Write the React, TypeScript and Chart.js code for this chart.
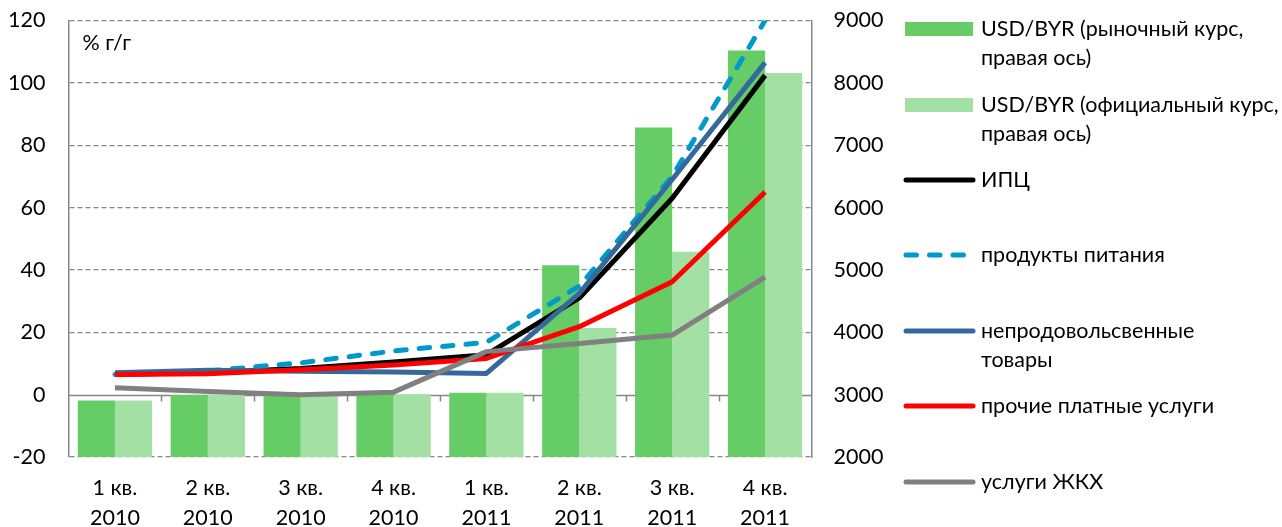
import React, { useEffect, useRef } from "react";
import { Chart, registerables } from "chart.js";

Chart.register(...registerables);

const quarters = ["1 кв.", "2 кв.", "3 кв.", "4 кв.", "1 кв.", "2 кв.", "3 кв.", "4 кв."];
const years = ["2010", "2010", "2010", "2010", "2011", "2011", "2011", "2011"];

const usdMarket = [2905, 2995, 2990, 3005, 3030, 5075, 7285, 8520];
const usdOfficial = [2905, 2995, 2990, 3005, 3030, 4070, 5290, 8160];

const cpi = [6.5, 7.1, 8.4, 10.5, 12.8, 31, 63, 102.4];
const food = [6.5, 7.6, 10.2, 14, 16.8, 34.8, 70, 120];
const nonFood = [7, 7.8, 7.5, 7.3, 6.8, 32.5, 69, 106.5];
const services = [6.5, 6.7, 8, 9.5, 11.6, 21.8, 36.2, 65];
const housing = [2.2, 1, 0, 0.8, 13.8, 16.4, 19.1, 37.7];

const leftTicks = { min: -20, max: 120, step: 20 };
const rightTicks = { min: 2000, max: 9000, step: 1000 };

const FONT = "Lato";
const FS = 21.5;
const GRID = "#878787";

const C_MARKET = "#66CC66";
const C_OFFICIAL = "#A3E0A3";
const C_CPI = "#000000";
const C_FOOD = "#0099CC";
const C_NONFOOD = "#35699C";
const C_SERV = "#FF0000";
const C_HOUSING = "#808080";

const legendItems = [
  { kind: "bar", color: C_MARKET, lines: ["USD/BYR (рыночный курс,", "правая ось)"], y: 29 },
  { kind: "bar", color: C_OFFICIAL, lines: ["USD/BYR (официальный курс,", "правая ось)"], y: 105 },
  { kind: "line", color: C_CPI, lines: ["ИПЦ"], y: 180 },
  { kind: "dash", color: C_FOOD, lines: ["продукты питания"], y: 255 },
  { kind: "line", color: C_NONFOOD, lines: ["непродовольсвенные", "товары"], y: 331 },
  { kind: "line", color: C_SERV, lines: ["прочие платные услуги"], y: 406 },
  { kind: "line", color: C_HOUSING, lines: ["услуги ЖКХ"], y: 482 },
];

const zeroLinePlugin = {
  id: "zeroLine",
  beforeDatasetsDraw(chart: any) {
    const { ctx, chartArea, scales } = chart;
    const y0 = Math.round(scales.y.getPixelForValue(0)) + 0.5;
    ctx.save();
    ctx.strokeStyle = GRID;
    ctx.lineWidth = 1.5;
    ctx.setLineDash([]);
    ctx.beginPath();
    ctx.moveTo(chartArea.left, y0);
    ctx.lineTo(chartArea.right, y0);
    const n = quarters.length;
    const w = (chartArea.right - chartArea.left) / n;
    for (let i = 1; i < n; i++) {
      const x = Math.round(chartArea.left + w * i) + 0.5;
      ctx.moveTo(x, y0);
      ctx.lineTo(x, y0 + 6);
    }
    ctx.stroke();
    ctx.restore();
  },
};

const overlayPlugin = {
  id: "overlay",
  afterDraw(chart: any) {
    const { ctx, chartArea } = chart;
    ctx.save();
    ctx.font = `${FS}px ${FONT}`;
    ctx.fillStyle = "#000";
    ctx.textBaseline = "middle";
    ctx.textAlign = "left";
    ctx.fillText("% г/г", chartArea.left + 14, 43);

    const sx0 = 905;
    const sx1 = 973;
    const tx = 981;
    for (const it of legendItems) {
      if (it.kind === "bar") {
        ctx.fillStyle = it.color;
        ctx.fillRect(sx0, it.y - 7, sx1 - sx0, 14);
      } else {
        ctx.strokeStyle = it.color;
        ctx.lineWidth = 5;
        ctx.lineCap = "round";
        ctx.setLineDash(it.kind === "dash" ? [10.5, 13] : []);
        ctx.beginPath();
        ctx.moveTo(sx0 + 1, it.y);
        ctx.lineTo(sx1, it.y);
        ctx.stroke();
        ctx.setLineDash([]);
      }
      ctx.fillStyle = "#000";
      it.lines.forEach((t, k) => ctx.fillText(t, tx, it.y + k * 29));
    }
    ctx.restore();
  },
};

export default function App() {
  const ref = useRef<HTMLCanvasElement | null>(null);

  useEffect(() => {
    document.body.style.margin = "0";
    const labels = quarters.map((q, i) => [q, years[i]]);
    const lineDs = (label: string, data: number[], color: string, order: number, dash: number[] = []) => ({
      type: "line" as const,
      label,
      data,
      yAxisID: "y",
      borderColor: color,
      backgroundColor: color,
      borderWidth: 5,
      borderDash: dash,
      borderCapStyle: dash.length ? "round" : "butt",
      borderJoinStyle: "round",
      pointRadius: 0,
      tension: 0,
      fill: false,
      order,
    });
    const chart = new Chart(ref.current as HTMLCanvasElement, {
      type: "bar",
      data: {
        labels,
        datasets: [
          {
            type: "bar",
            label: "USD/BYR (рыночный курс, правая ось)",
            data: usdMarket,
            yAxisID: "y2",
            backgroundColor: C_MARKET,
            categoryPercentage: 0.8,
            barPercentage: 1.0,
            order: 10,
          },
          {
            type: "bar",
            label: "USD/BYR (официальный курс, правая ось)",
            data: usdOfficial,
            yAxisID: "y2",
            backgroundColor: C_OFFICIAL,
            categoryPercentage: 0.8,
            barPercentage: 1.0,
            order: 10,
          },
          lineDs("ИПЦ", cpi, C_CPI, 5),
          lineDs("продукты питания", food, C_FOOD, 4, [10.5, 13]),
          lineDs("непродовольсвенные товары", nonFood, C_NONFOOD, 3),
          lineDs("прочие платные услуги", services, C_SERV, 2),
          lineDs("услуги ЖКХ", housing, C_HOUSING, 1),
        ] as any,
      },
      options: {
        animation: false,
        responsive: false,
        devicePixelRatio: 1,
        layout: { padding: { top: 20.5, left: 0, right: 0, bottom: 0 } },
        plugins: { legend: { display: false }, tooltip: { enabled: false }, title: { display: false } },
        scales: {
          x: {
            type: "category",
            offset: true,
            grid: { display: false },
            border: { display: false },
            ticks: {
              color: "#000",
              font: { family: FONT, size: FS, lineHeight: 30 / FS },
              padding: 8,
              maxRotation: 0,
              autoSkip: false,
            },
            afterFit: (s: any) => {
              s.height = 70;
              s.paddingLeft = 0;
              s.paddingRight = 0;
            },
          },
          y: {
            type: "linear",
            position: "left",
            min: leftTicks.min,
            max: leftTicks.max,
            ticks: {
              stepSize: leftTicks.step,
              color: "#000",
              font: { family: FONT, size: FS },
              padding: 23,
              callback: (v: any) => String(v),
            },
            grid: {
              drawTicks: false,
              color: (c: any) => (c.tick && c.tick.value === 0 ? "rgba(0,0,0,0)" : GRID),
              lineWidth: 1.2,
            },
            border: { display: true, color: GRID, width: 1.5, dash: [5, 3] },
            afterFit: (s: any) => {
              s.width = 68.5;
              s.paddingTop = 0;
              s.paddingBottom = 0;
            },
          },
          y2: {
            type: "linear",
            position: "right",
            min: rightTicks.min,
            max: rightTicks.max,
            ticks: {
              stepSize: rightTicks.step,
              color: "#000",
              font: { family: FONT, size: FS },
              padding: 22,
              callback: (v: any) => String(v),
            },
            grid: { display: false, drawTicks: false },
            border: { display: true, color: GRID, width: 1.5 },
            afterFit: (s: any) => {
              s.width = 1282 - 811.5;
              s.paddingTop = 0;
              s.paddingBottom = 0;
            },
          },
        },
      } as any,
      plugins: [zeroLinePlugin, overlayPlugin],
    });
    return () => chart.destroy();
  }, []);

  return (
    <div style={{ position: "fixed", left: 0, top: 0, width: 1282, height: 527, background: "#fff" }}>
      <canvas ref={ref} width={1282} height={527} />
    </div>
  );
}
